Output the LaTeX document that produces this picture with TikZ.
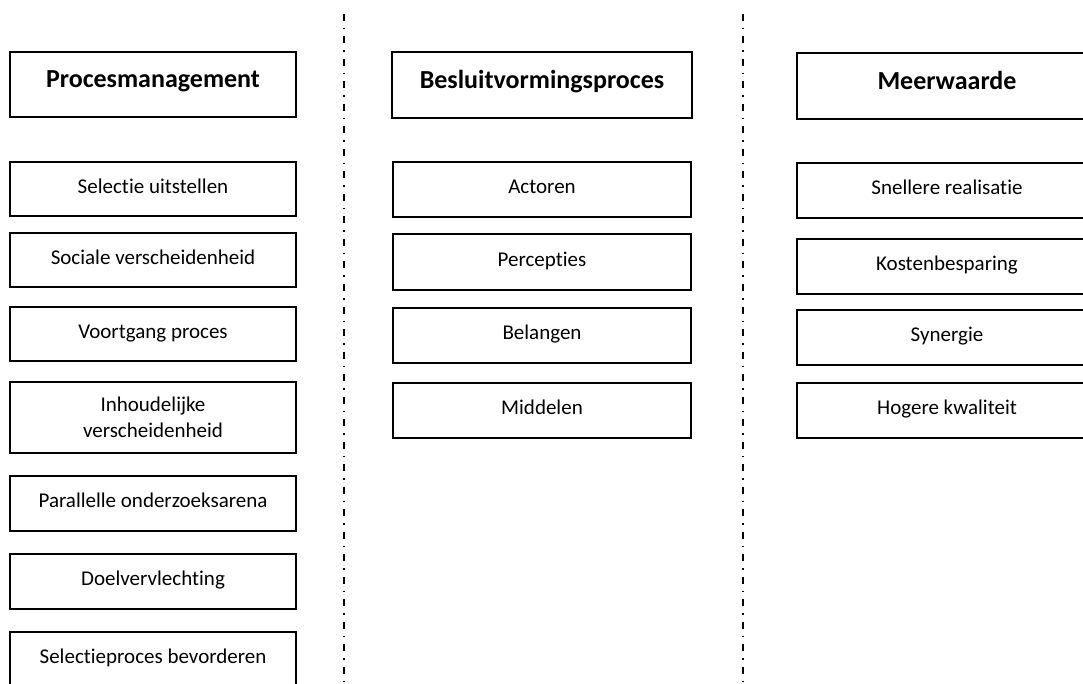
\documentclass[tikz,border=0pt]{standalone}
\usepackage{fontspec}
\setmainfont{Carlito}[Ligatures=NoCommon]
\usepackage{tikz}
\usetikzlibrary{positioning}

\tikzstyle{kop} = [rectangle, draw=black, line width=1.7pt, fill=white, text=black, text centered, font=\fontsize{26}{31}\selectfont\bfseries, text height=15.6pt, text depth=8.6pt, minimum width=300pt, minimum height=66pt, inner sep=0pt, outer sep=0pt]
\tikzstyle{item} = [rectangle, draw=black, line width=1.6pt, fill=white, text=black, align=center, font=\fontsize{21}{25.5}\selectfont, text height=13.6pt, text depth=5.2pt, minimum width=300pt, minimum height=55pt, inner sep=0pt, outer sep=0pt]
\tikzstyle{scheiding} = [draw, line width=1.6pt, dash pattern=on 7pt off 7pt on 1.5pt off 7pt]

\begin{document}
\begin{tikzpicture}[x=1pt, y=-1pt]

\path[use as bounding box, clip] (0,0) rectangle (1083,684);

% procesmanagement =============================
\node[kop, minimum width=286pt, minimum height=65pt] (pm) at (153,84.5) {Procesmanagement};
\node[item, minimum width=286pt, minimum height=54pt, below=45pt of pm] (sel) {Selectie uitstellen};
\node[item, minimum width=286pt, minimum height=54pt, below=17pt of sel] (soc) {Sociale verscheidenheid};
\node[item, minimum width=286pt, minimum height=54pt, below=20pt of soc] (voort) {Voortgang proces};
\node[item, minimum width=286pt, minimum height=71pt, text height=, text depth=, below=21pt of voort] (inh) {Inhoudelijke\\verscheidenheid};
\node[item, minimum width=286pt, below=23pt of inh] (par) {Parallelle onderzoeksarena};
\node[item, minimum width=286pt, below=23pt of par] (doel) {Doelvervlechting};
\node[item, minimum width=286pt, below=23pt of doel] (selp) {Selectieproces bevorderen};

% besluitvorming
\node[kop] (bv) at (542,85) {Besluitvormingsproces};
\node[item, minimum width=298pt, below=44pt of bv] (act) {Actoren};
\node[item, minimum width=298pt, minimum height=56pt, below=17pt of act] (perc) {Percepties};
\node[item, minimum width=298pt, below=18pt of perc] (bel) {Belangen};
\node[item, minimum width=298pt, below=20pt of bel] (mid) {Middelen};

% meerwaarde
\node[kop] (mw) at (947,86) {Meerwaarde};
\node[item, below=44pt of mw] (snel) {Snellere realisatie};
\node[item, below=21pt of snel] (kost) {Kostenbesparing};
\node[item, below=16pt of kost] (syn) {Synergie};
\node[item, below=18pt of syn] (hog) {Hogere kwaliteit};

% scheidingslijnen
\coordinate (l1top) at (344,14);
\coordinate (l1bot) at (344,684);
\coordinate (l2top) at (743,14);
\coordinate (l2bot) at (743,684);
\path[scheiding] (l1top) -- (l1bot);
\path[scheiding] (l2top) -- (l2bot);

\end{tikzpicture}
\end{document}
